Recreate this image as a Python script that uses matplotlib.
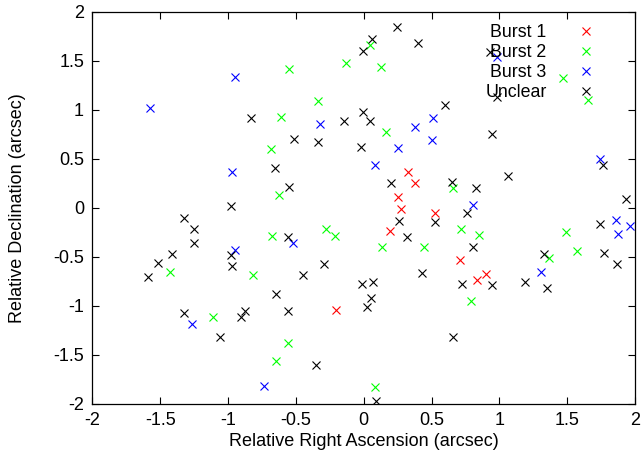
import matplotlib
matplotlib.use("Agg")
import matplotlib.pyplot as plt

plt.rcParams['font.family'] = ['Liberation Sans', 'DejaVu Sans']

burst1_x = [0.326, 0.375, 0.254, 0.274, 0.523, 0.195, 0.712, 0.900, 0.833, -0.204]
burst1_y = [0.361, 0.252, 0.112, -0.016, -0.057, -0.235, -0.534, -0.677, -0.738, -1.041]

burst2_x = [0.045, -0.127, 0.128, -0.551, -0.339, -0.610, -0.685, 0.163, -0.625, 1.468,
            1.655, 0.660, -0.675, -1.430, -0.817, -1.109, -0.645, -0.275, -0.208, 0.134,
            0.446, -0.556, 0.080, 0.717, 0.848, 0.789, 1.369, 1.495, 1.572]
burst2_y = [1.660, 1.480, 1.430, 1.410, 1.090, 0.922, 0.599, 0.776, 0.133, 1.320,
            1.100, 0.198, -0.288, -0.656, -0.690, -1.118, -1.566, -0.220, -0.289, -0.398,
            -0.401, -1.384, -1.826, -0.214, -0.276, -0.949, -0.516, -0.248, -0.439]

burst3_x = [-1.572, -0.947, -0.974, -0.322, 0.508, 0.380, 0.503, 0.250, 0.087, 0.980,
            1.746, 0.803, -0.950, -1.265, -0.735, -0.521, 1.306, 1.862, 1.877, 1.965]
burst3_y = [1.020, 1.337, 0.367, 0.851, 0.912, 0.827, 0.694, 0.612, 0.433, 1.540,
            0.494, 0.027, -0.428, -1.184, -1.820, -0.357, -0.653, -0.122, -0.268, -0.187]

unclear_x = [-0.834, -0.657, -0.980, 0.244, 0.060, -0.004, 0.400, 0.601, -0.145, -0.002,
             0.045, -0.516, -0.334, -0.021, 0.653, 0.198, -0.553, 0.931, 0.980, 0.946,
             1.763, 1.067, 0.828, 1.933, -1.324, -1.250, -1.252, -1.412, -1.513, -1.592,
             -0.981, -0.972, -0.650, -1.326, -0.873, -0.908, -1.058, 0.523, 0.257, 0.318,
             -0.558, 0.431, -0.295, -0.448, -0.016, 0.067, 0.055, 0.025, -0.558, 0.655,
             -0.354, 0.089, 0.764, 0.808, 0.727, 0.948, 1.192, 1.332, 1.355, 1.746,
             1.771, 1.869]
unclear_y = [0.912, 0.400, 0.020, 1.847, 1.718, 1.600, 1.680, 1.048, 0.888, 0.980,
             0.888, 0.704, 0.674, 0.616, 0.259, 0.249, 0.214, 1.590, 1.130, 0.752,
             0.433, 0.327, 0.198, 0.086, -0.108, -0.217, -0.360, -0.469, -0.568, -0.710,
             -0.483, -0.591, -0.876, -1.078, -1.054, -1.118, -1.319, -0.143, -0.136, -0.302,
             -0.302, -0.663, -0.578, -0.687, -0.779, -0.758, -0.918, -1.010, -1.051, -1.318,
             -1.608, -1.976, -0.051, -0.398, -0.776, -0.789, -0.755, -0.472, -0.822, -0.169,
             -0.459, -0.578]

tick_vals = [-2, -1.5, -1, -0.5, 0, 0.5, 1, 1.5, 2]
tick_labels = ['-2', '-1.5', '-1', '-0.5', '0', '0.5', '1', '1.5', '2']

FS = 13

fig = plt.figure(figsize=(6.42, 4.62), dpi=100)
ax = fig.add_axes([0.144, 0.126, 0.845, 0.849])

style = dict(linestyle='none', marker='x', markersize=5.8, markeredgewidth=0.8)
ax.plot(burst1_x, burst1_y, color='#ff0000', label='Burst 1', **style)
ax.plot(burst2_x, burst2_y, color='#00ff00', label='Burst 2', **style)
ax.plot(burst3_x, burst3_y, color='#0000ff', label='Burst 3', **style)
ax.plot(unclear_x, unclear_y, color='#000000', label='Unclear', **style)

ax.set_xlim(-2, 2)
ax.set_ylim(-2, 2)
ax.set_xticks(tick_vals)
ax.set_xticklabels(tick_labels)
ax.set_yticks(tick_vals)
ax.set_yticklabels(tick_labels)
ax.tick_params(direction='in', length=5, width=0.8, top=True, right=True,
               labelsize=FS, pad=6)
for sp in ax.spines.values():
    sp.set_linewidth(0.9)

ax.set_xlabel('Relative Right Ascension (arcsec)', fontsize=FS)
ax.set_ylabel('Relative Declination (arcsec)', fontsize=FS)
ax.xaxis.set_label_coords(0.5, -0.075)
ax.yaxis.set_label_coords(-0.122, 0.5)

leg = ax.legend(loc='upper right', bbox_to_anchor=(0.942, 0.9686), frameon=False,
                markerfirst=False, fontsize=12.8, borderpad=0, borderaxespad=0,
                handlelength=2.0, handletextpad=1.2, labelspacing=0.17)

fig.savefig('out.png', dpi=100)
